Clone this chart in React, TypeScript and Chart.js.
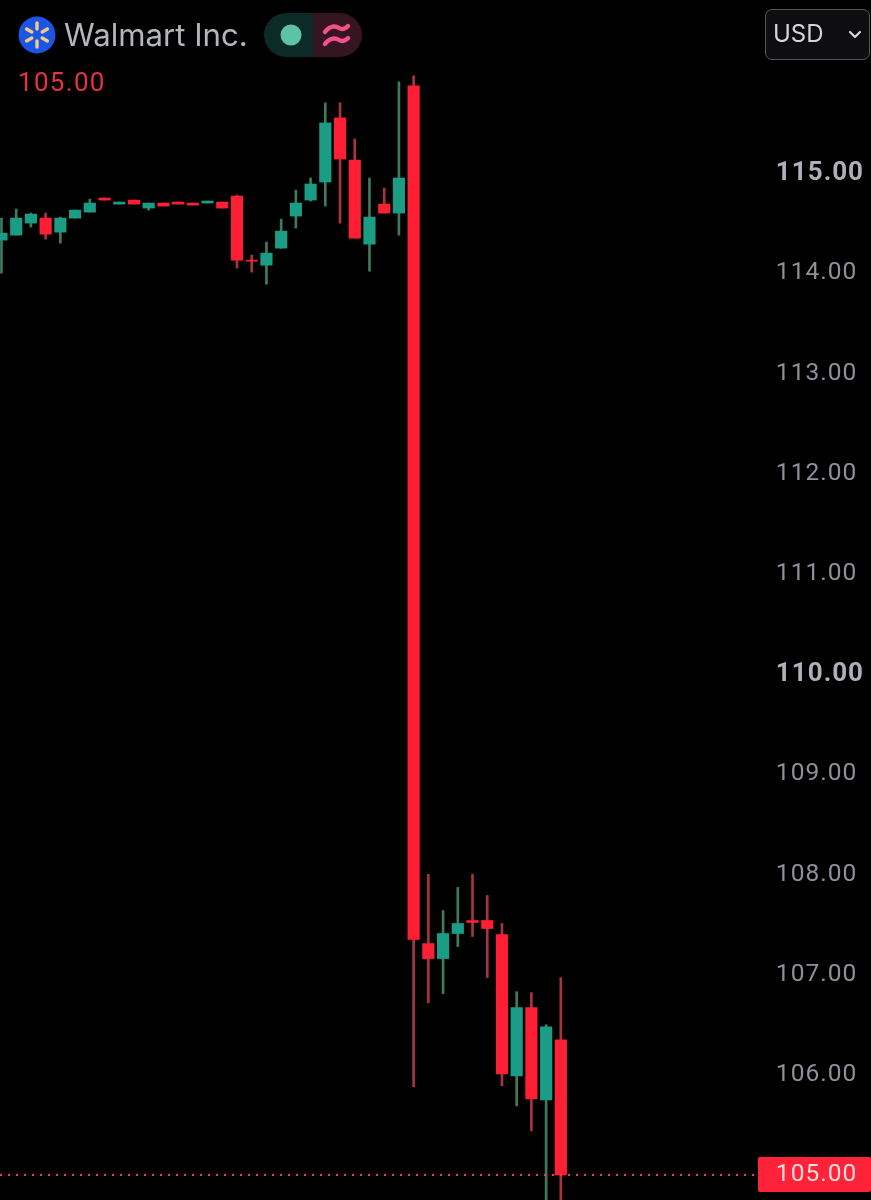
import React, { useEffect, useRef } from "react";
import { Chart, registerables } from "chart.js";

Chart.register(...registerables);

const opens = [114.33, 114.38, 114.50, 114.55, 114.41, 114.55, 114.61, 114.75, 114.69, 114.73, 114.65, 114.70, 114.71, 114.70, 114.70, 114.71, 114.77, 114.13, 114.08, 114.25, 114.57, 114.73, 114.91, 115.55, 115.13, 114.29, 114.69, 114.60, 115.87, 107.31, 107.16, 107.41, 107.54, 107.54, 107.40, 105.99, 106.67, 105.75, 106.35];
const highs = [114.55, 114.64, 114.60, 114.60, 114.56, 114.63, 114.74, 114.75, 114.71, 114.73, 114.70, 114.70, 114.71, 114.70, 114.72, 114.71, 114.78, 114.18, 114.31, 114.54, 114.83, 114.95, 115.70, 115.70, 115.34, 114.95, 114.85, 115.91, 115.97, 108.00, 107.64, 107.87, 108.00, 107.79, 107.51, 106.83, 106.82, 106.50, 106.97];
const lows = [114.00, 114.38, 114.46, 114.34, 114.30, 114.55, 114.61, 114.73, 114.69, 114.69, 114.63, 114.67, 114.69, 114.68, 114.70, 114.65, 114.05, 114.01, 113.89, 114.25, 114.45, 114.72, 114.67, 114.50, 114.35, 114.02, 114.60, 114.38, 105.88, 106.72, 106.81, 107.28, 107.38, 106.97, 105.89, 105.69, 105.44, 104.50, 104.50];
const closes = [114.40, 114.55, 114.59, 114.39, 114.55, 114.63, 114.70, 114.73, 114.71, 114.69, 114.70, 114.67, 114.69, 114.68, 114.72, 114.65, 114.13, 114.12, 114.20, 114.42, 114.70, 114.89, 115.50, 115.14, 114.35, 114.56, 114.60, 114.95, 107.35, 107.16, 107.41, 107.51, 107.52, 107.46, 106.01, 106.67, 105.76, 106.48, 105.00];
const priceTicks = [105, 106, 107, 108, 109, 110, 111, 112, 113, 114, 115];
const boldTicks = [115, 110];
const lastPrice = 105.0;
const instrumentName = "Walmart Inc.";
const currency = "USD";

const GREEN = "#1b9c85";
const RED = "#ff1f35";
const GREEN_WICK = "#3f7a60";
const RED_WICK = "#a8353e";

const FONT = "Inter, 'Liberation Sans', sans-serif";
const AXIS_FONT = "Roboto, 'Liberation Sans', sans-serif";

export default function App() {
  const ref = useRef<HTMLCanvasElement | null>(null);

  useEffect(() => {
    document.body.style.margin = "0";
    document.body.style.background = "#000";
    const xs = opens.map((_, i) => i);
    const up = opens.map((o, i) => closes[i] >= o);
    const lastBox = {
      id: "lastBox",
      beforeDraw(chart: any) {
        chart.ctx.letterSpacing = "1px";
      },
      afterDatasetsDraw(chart: any) {
        const y = chart.scales.y.getPixelForValue(lastPrice);
        const c = chart.ctx;
        c.save();
        c.fillStyle = "#ff2238";
        c.beginPath();
        c.roundRect(758, y - 18, 113, 35, 2);
        c.fill();
        c.restore();
      },
    };
    const chart = new Chart(ref.current!, {
      type: "bar",
      data: {
        datasets: [
          {
            type: "line",
            data: [{ x: -0.1, y: lastPrice }, { x: 59.07, y: lastPrice }],
            borderColor: "#f23a48",
            borderWidth: 2,
            borderDash: [2, 6],
            pointRadius: 0,
            clip: false,
            order: 0,
          },
          {
            data: xs.map((x, i) => ({ x, y: [opens[i], closes[i]] })),
            backgroundColor: up.map((u) => (u ? GREEN : RED)),
            barThickness: 11.5,
            grouped: false,
            clip: false,
            order: 1,
          },
          {
            data: xs.map((x, i) => ({ x, y: [lows[i], highs[i]] })),
            backgroundColor: up.map((u) => (u ? GREEN_WICK : RED_WICK)),
            barThickness: 2,
            grouped: false,
            clip: false,
            order: 2,
          },
        ] as any,
      },
      options: {
        animation: false,
        responsive: false,
        maintainAspectRatio: false,
        devicePixelRatio: 1,
        layout: { padding: 0 },
        plugins: { legend: { display: false }, tooltip: { enabled: false } },
        scales: {
          x: {
            type: "linear",
            display: false,
            min: -0.1,
            max: 59.07,
            offset: false,
          },
          y: {
            position: "right",
            min: 104.7676,
            max: 116.7006,
            grid: { display: false, drawTicks: false },
            border: { display: false },
            afterBuildTicks: (axis: any) => {
              axis.ticks = priceTicks.map((value) => ({ value }));
            },
            ticks: {
              mirror: true,
              padding: -13,
              crossAlign: "far",
              z: 1,
              autoSkip: false,
              callback: (v: any) => Number(v).toFixed(2),
              font: (ctx: any) => ({
                family: AXIS_FONT,
                size: boldTicks.includes(ctx.tick?.value) ? 26 : 24.5,
                weight: boldTicks.includes(ctx.tick?.value) ? "700" : "400",
              }),
              color: (ctx: any) =>
                ctx.tick?.value === lastPrice
                  ? "#f6dcdc"
                  : boldTicks.includes(ctx.tick?.value)
                  ? "#aeb0b8"
                  : "#8f9199",
            },
          },
        },
      } as any,
      plugins: [lastBox],
    });
    return () => chart.destroy();
  }, []);

  return (
    <div style={{ position: "absolute", left: 0, top: 0, width: 871, height: 1200, background: "#000", overflow: "hidden", fontFamily: FONT }}>
      <canvas ref={ref} width={871} height={1200} style={{ position: "absolute", left: 0, top: 0, display: "block" }} />
      <svg width={871} height={70} style={{ position: "absolute", left: 0, top: 0 }}>
        <circle cx={37} cy={35} r={18.5} fill="#1a55e6" />
        {[0, 60, 120, 180, 240, 300].map((a) => (
          <line key={a} x1={37} y1={29} x2={37} y2={23} stroke="#f2cb80" strokeWidth={3.4} strokeLinecap="round" transform={`rotate(${a} 37 35)`} />
        ))}
        <path d="M313 13 H286 A22 22 0 0 0 286 57 H313 Z" fill="#0c2a28" />
        <path d="M313 13 H340 A22 22 0 0 1 340 57 H313 Z" fill="#341520" />
        <circle cx={291} cy={35} r={10.5} fill="#5cc3a8" />
        <path d="M325 32 C330 25 336 26 339 28 C342 30 345 29 348 26" fill="none" stroke="#f4508c" strokeWidth={4.4} strokeLinecap="round" />
        <path d="M325 44 C330 37 336 38 339 40 C342 42 345 41 348 38" fill="none" stroke="#f4508c" strokeWidth={4.4} strokeLinecap="round" />
      </svg>
      <div style={{ position: "absolute", left: 64, top: 15, fontSize: 31.2, lineHeight: "40px", color: "#b4b6be", whiteSpace: "nowrap" }}>{instrumentName}</div>
      <div style={{ position: "absolute", left: 18, top: 66, fontFamily: AXIS_FONT, fontSize: 26, letterSpacing: 1.3, lineHeight: "32px", color: "#e5343f", whiteSpace: "nowrap" }}>{lastPrice.toFixed(2)}</div>
      <div style={{ position: "absolute", left: 765, top: 9, width: 105, height: 51, boxSizing: "border-box", border: "1.5px solid #55565a", borderRadius: 7, background: "#0e0e10" }}>
        <div style={{ position: "absolute", left: 7, top: 9, fontSize: 24, lineHeight: "30px", color: "#d4d5d8" }}>{currency}</div>
        <svg width={14} height={10} style={{ position: "absolute", left: 82, top: 20 }}>
          <path d="M2 2 L7 7 L12 2" fill="none" stroke="#d4d5d8" strokeWidth={2.2} strokeLinecap="round" strokeLinejoin="round" />
        </svg>
      </div>
    </div>
  );
}
